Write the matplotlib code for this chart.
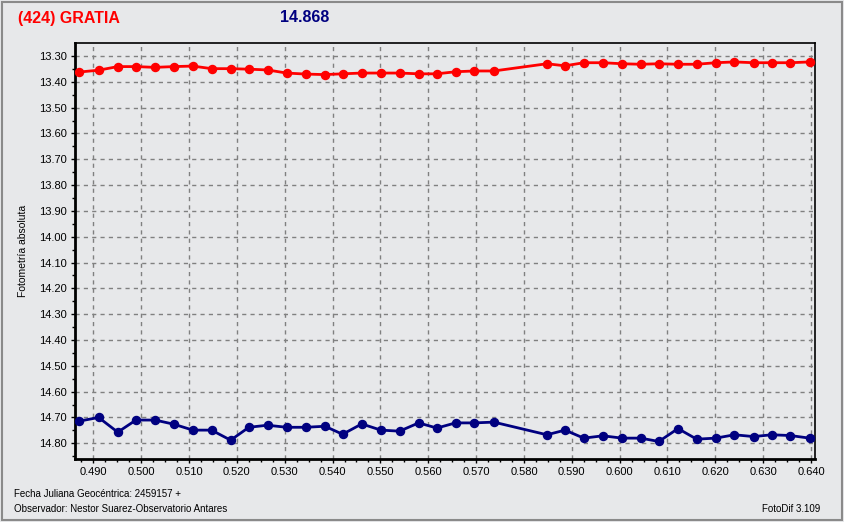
import matplotlib
matplotlib.use("Agg")
import matplotlib.pyplot as plt
from matplotlib.ticker import MultipleLocator, FormatStrFormatter
from matplotlib.patches import Rectangle

plt.rcParams['font.family'] = ['Liberation Sans', 'DejaVu Sans']

# fecha juliana (fraccion) y fotometria de cada serie
jd_red = [0.4871, 0.4911, 0.4951, 0.4989, 0.5029, 0.5068, 0.5108, 0.5147, 0.5187,
          0.5225, 0.5264, 0.5304, 0.5344, 0.5384, 0.5421, 0.5461, 0.5501, 0.5540,
          0.5580, 0.5618, 0.5657, 0.5696, 0.5737, 0.5848, 0.5886, 0.5925, 0.5965,
          0.6005, 0.6044, 0.6082, 0.6122, 0.6161, 0.6201, 0.6240, 0.6280, 0.6318,
          0.6357, 0.6397]
mag_red = [13.362, 13.355, 13.341, 13.341, 13.344, 13.341, 13.339, 13.349, 13.349,
           13.351, 13.354, 13.366, 13.370, 13.372, 13.369, 13.366, 13.366, 13.366,
           13.369, 13.369, 13.361, 13.358, 13.358, 13.330, 13.338, 13.326, 13.326,
           13.330, 13.332, 13.330, 13.332, 13.332, 13.326, 13.323, 13.326, 13.326,
           13.326, 13.323]
jd_blue = jd_red
mag_blue = [14.714, 14.700, 14.757, 14.710, 14.710, 14.726, 14.749, 14.749, 14.788,
            14.738, 14.730, 14.738, 14.738, 14.734, 14.765, 14.725, 14.749, 14.753,
            14.721, 14.741, 14.721, 14.721, 14.718, 14.767, 14.749, 14.780, 14.771,
            14.780, 14.780, 14.793, 14.743, 14.784, 14.780, 14.767, 14.774, 14.767,
            14.770, 14.780]

bg = '#e7e8ea'
fig = plt.figure(figsize=(8.44, 5.22), dpi=100, facecolor=bg)
ax = fig.add_axes([74.7 / 844, 1 - 459.3 / 522, (815.3 - 74.7) / 844, (459.3 - 43.3) / 522])
ax.set_facecolor(bg)

ax.plot(jd_red, mag_red, color='red', lw=2, marker='o', ms=5.8, zorder=3)
ax.plot(jd_blue, mag_blue, color='#000080', lw=2, marker='o', ms=5.8, zorder=3)

ax.set_xlim(0.4861, 0.6409)
ax.set_ylim(14.862, 13.2508)
ax.xaxis.set_major_locator(MultipleLocator(0.01))
ax.xaxis.set_minor_locator(MultipleLocator(0.0025))
ax.yaxis.set_major_locator(MultipleLocator(0.1))
ax.yaxis.set_minor_locator(MultipleLocator(0.05))
ax.xaxis.set_major_formatter(FormatStrFormatter('%.3f'))
ax.yaxis.set_major_formatter(FormatStrFormatter('%.2f'))
ax.tick_params(which='major', direction='out', length=3, width=1, labelsize=8, pad=2.5)
ax.tick_params(which='minor', direction='out', length=2, width=1)
ax.grid(True, which='major', color='#808080', linestyle=(0, (3, 3)), lw=1)

for s in ['left', 'bottom']:
    ax.spines[s].set_linewidth(2)
for s in ['top', 'right']:
    ax.spines[s].set_linewidth(1.2)

ax.set_ylabel('Fotometría absoluta', fontsize=7.5, labelpad=8)

fig.text(18 / 844, 1 - 18 / 522, '(424) GRATIA', color='red', fontsize=11.5,
         fontweight='bold', va='center', ha='left')
fig.text(280 / 844, 1 - 18 / 522, '14.868', color='#000080', fontsize=11.5,
         fontweight='bold', va='center', ha='left')
fig.text(14 / 844, 1 - 494 / 522, 'Fecha Juliana Geocéntrica: 2459157 +', fontsize=7,
         va='center', ha='left')
fig.text(14 / 844, 1 - 509 / 522, 'Observador: Nestor Suarez-Observatorio Antares',
         fontsize=7, va='center', ha='left')
fig.text(820 / 844, 1 - 509 / 522, 'FotoDif 3.109', fontsize=7, va='center', ha='right')

fig.patches.append(Rectangle((2 / 844, 2 / 522), 839.5 / 844, 518 / 522,
                             transform=fig.transFigure, fill=False,
                             edgecolor='#8a8a8a', lw=1.5))

fig.savefig('out.png', dpi=100, facecolor=bg)
